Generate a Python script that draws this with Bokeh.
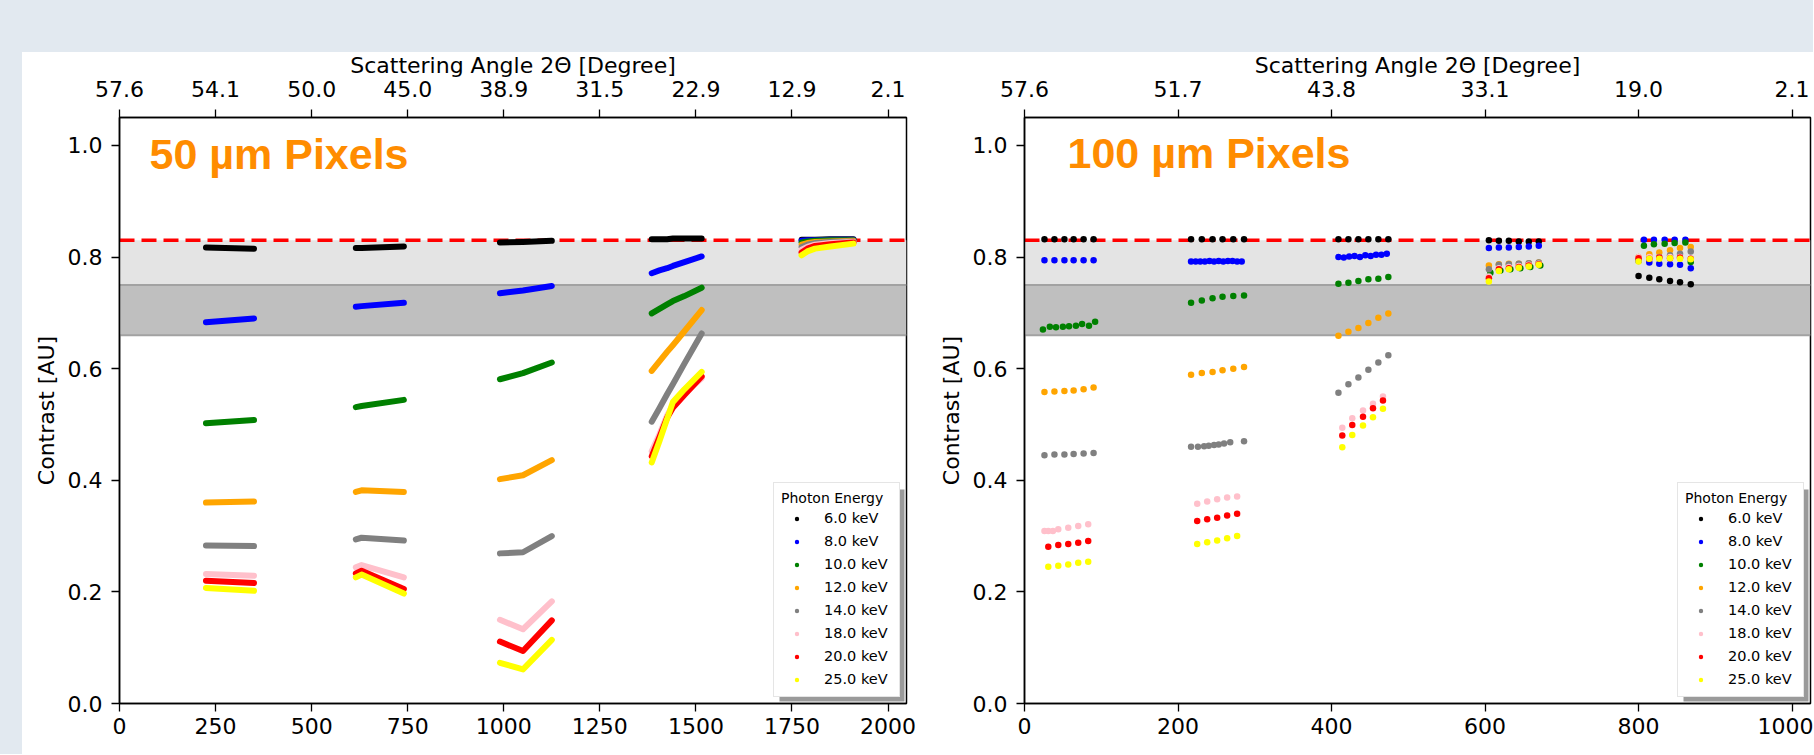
import numpy as np
from bokeh.plotting import figure
from bokeh.models import (LinearAxis, FixedTicker, PrintfTickFormatter, BoxAnnotation,
                          Span, Label, Legend, LegendItem, Spacer)
from bokeh.layouts import row, column
from bokeh.embed import file_html
from bokeh.resources import INLINE

# ---------------- data ----------------
energies = ["6.0 keV", "8.0 keV", "10.0 keV", "12.0 keV", "14.0 keV", "18.0 keV", "20.0 keV", "25.0 keV"]
colors = ["black", "blue", "green", "orange", "gray", "pink", "red", "yellow"]

# 50 um pixels: x positions (pixel) of the five measured groups
x50_g1 = [225, 350]
x50_g2 = [615, 630, 740]
x50_g3 = [990, 1050, 1125]
x50_g4 = [1385, 1405, 1425, 1440, 1470, 1515]
x50_g5 = [1775, 1790, 1810, 1850, 1910]

c50_e06 = [[0.817, 0.815], [0.816, 0.816, 0.819], [0.826, 0.827, 0.829],
           [0.832, 0.832, 0.832, 0.833, 0.833, 0.833], [0.831, 0.831, 0.831, 0.832, 0.832]]
c50_e08 = [[0.683, 0.690], [0.711, 0.712, 0.718], [0.735, 0.740, 0.748],
           [0.771, 0.776, 0.780, 0.784, 0.791, 0.801], [0.829, 0.830, 0.830, 0.831, 0.831]]
c50_e10 = [[0.502, 0.508], [0.531, 0.533, 0.544], [0.581, 0.592, 0.611],
           [0.699, 0.707, 0.715, 0.721, 0.730, 0.745], [0.826, 0.828, 0.829, 0.830, 0.830]]
c50_e12 = [[0.360, 0.362], [0.379, 0.382, 0.379], [0.402, 0.409, 0.436],
           [0.596, 0.613, 0.630, 0.642, 0.667, 0.705], [0.822, 0.825, 0.827, 0.828, 0.829]]
c50_e14 = [[0.283, 0.282], [0.294, 0.297, 0.292], [0.269, 0.271, 0.300],
           [0.505, 0.529, 0.554, 0.572, 0.609, 0.663], [0.818, 0.822, 0.825, 0.827, 0.828]]
c50_e18 = [[0.232, 0.229], [0.244, 0.248, 0.226], [0.150, 0.133, 0.183],
           [0.452, 0.482, 0.516, 0.534, 0.556, 0.583], [0.813, 0.818, 0.822, 0.825, 0.827]]
c50_e20 = [[0.220, 0.216], [0.233, 0.238, 0.205], [0.111, 0.094, 0.149],
           [0.443, 0.477, 0.512, 0.530, 0.553, 0.586], [0.808, 0.815, 0.820, 0.823, 0.826]]
c50_e25 = [[0.207, 0.202], [0.226, 0.231, 0.197], [0.073, 0.061, 0.114],
           [0.432, 0.470, 0.510, 0.540, 0.563, 0.594], [0.803, 0.810, 0.815, 0.819, 0.824]]

# 100 um pixels: individual points
x100_e06 = [26, 39, 52, 64, 77, 90, 217, 231, 245, 258, 272, 286, 409, 422, 435, 448, 461, 474,
            605, 618, 631, 644, 657, 670, 800, 814, 827, 841, 854, 868]
c100_e06 = [0.832, 0.832, 0.832, 0.832, 0.832, 0.832, 0.832, 0.832, 0.832, 0.832, 0.832, 0.832,
            0.832, 0.832, 0.832, 0.832, 0.832, 0.832, 0.830, 0.829, 0.829, 0.828, 0.828, 0.828,
            0.766, 0.763, 0.760, 0.757, 0.755, 0.751]
x100_e08 = [26, 39, 52, 64, 77, 90,
            217, 223, 229, 235, 241, 247, 253, 259, 265, 271, 277, 283,
            409, 416, 423, 430, 437, 444, 451, 458, 465, 472,
            605, 618, 631, 644, 657, 670,
            807, 820, 834, 847, 861, 800, 814, 827, 841, 854, 868]
c100_e08 = [0.794, 0.794, 0.794, 0.794, 0.794, 0.794,
            0.792, 0.792, 0.792, 0.792, 0.793, 0.792, 0.793, 0.792, 0.793, 0.793, 0.792, 0.792,
            0.800, 0.799, 0.801, 0.802, 0.800, 0.803, 0.802, 0.804, 0.804, 0.806,
            0.816, 0.817, 0.817, 0.818, 0.819, 0.820,
            0.831, 0.831, 0.831, 0.831, 0.831, 0.793, 0.790, 0.788, 0.787, 0.786, 0.780]
x100_e10 = [24, 33, 41, 50, 58, 67, 75, 84, 92, 217, 231, 245, 258, 272, 286,
            409, 422, 435, 448, 461, 474, 607, 620, 633, 646, 659, 672,
            807, 820, 834, 847, 861, 868]
c100_e10 = [0.670, 0.675, 0.674, 0.675, 0.676, 0.677, 0.680, 0.677, 0.684,
            0.718, 0.722, 0.726, 0.729, 0.730, 0.731,
            0.752, 0.754, 0.757, 0.760, 0.761, 0.764,
            0.772, 0.776, 0.778, 0.780, 0.782, 0.785,
            0.820, 0.823, 0.824, 0.825, 0.826, 0.791]
x100_e12 = [26, 39, 52, 64, 77, 90, 217, 231, 245, 258, 272, 286,
            409, 422, 435, 448, 461, 474, 605, 618, 631, 644, 657, 670,
            800, 814, 827, 841, 854, 868]
c100_e12 = [0.558, 0.559, 0.560, 0.561, 0.563, 0.566, 0.589, 0.592, 0.594, 0.597, 0.600, 0.603,
            0.659, 0.666, 0.673, 0.682, 0.691, 0.699, 0.785, 0.787, 0.788, 0.788, 0.789, 0.790,
            0.800, 0.805, 0.808, 0.812, 0.816, 0.818]
x100_e14 = [26, 39, 52, 64, 77, 90, 217, 226, 234, 240, 247, 253, 260, 268, 286,
            409, 422, 435, 448, 461, 474, 605, 618, 631, 644, 657, 670,
            800, 814, 827, 841, 854, 868]
c100_e14 = [0.445, 0.446, 0.446, 0.447, 0.448, 0.449,
            0.460, 0.460, 0.461, 0.462, 0.463, 0.464, 0.466, 0.468, 0.470,
            0.557, 0.572, 0.584, 0.598, 0.611, 0.624,
            0.778, 0.786, 0.787, 0.788, 0.789, 0.790,
            0.795, 0.798, 0.800, 0.803, 0.806, 0.810]
x100_e18 = [26, 31, 37, 44, 57, 70, 83, 225, 238, 251, 264, 277, 414, 427, 441, 454, 467,
            605, 618, 631, 644, 657, 670, 800, 814, 827, 841, 854, 868]
c100_e18 = [0.309, 0.309, 0.309, 0.312, 0.315, 0.318, 0.321,
            0.358, 0.362, 0.366, 0.369, 0.371,
            0.494, 0.511, 0.525, 0.537, 0.550,
            0.765, 0.780, 0.782, 0.784, 0.786, 0.788,
            0.800, 0.800, 0.799, 0.800, 0.800, 0.797]
x100_e20 = [31, 44, 57, 70, 83, 225, 238, 251, 264, 277, 414, 427, 441, 454, 467,
            605, 618, 631, 644, 657, 670, 800, 814, 827, 841, 854, 868]
c100_e20 = [0.281, 0.284, 0.286, 0.288, 0.291,
            0.327, 0.330, 0.333, 0.337, 0.340,
            0.480, 0.499, 0.514, 0.529, 0.543,
            0.762, 0.778, 0.780, 0.782, 0.785, 0.787,
            0.798, 0.797, 0.799, 0.798, 0.799, 0.797]
x100_e25 = [31, 44, 57, 70, 83, 225, 238, 251, 264, 277, 414, 427, 441, 454, 467,
            605, 618, 631, 644, 657, 670, 800, 814, 827, 841, 854, 868]
c100_e25 = [0.245, 0.247, 0.249, 0.252, 0.254,
            0.286, 0.289, 0.292, 0.296, 0.300,
            0.459, 0.481, 0.498, 0.513, 0.528,
            0.756, 0.775, 0.778, 0.781, 0.783, 0.786,
            0.792, 0.797, 0.797, 0.798, 0.797, 0.796]

# axis ticks
ticks50 = [0, 250, 500, 750, 1000, 1250, 1500, 1750, 2000]
angles50 = ["57.6", "54.1", "50.0", "45.0", "38.9", "31.5", "22.9", "12.9", "2.1"]
ticks100 = [0, 200, 400, 600, 800, 1000]
angles100 = ["57.6", "51.7", "43.8", "33.1", "19.0", "2.1"]
yticks = [0.0, 0.2, 0.4, 0.6, 0.8, 1.0]

# reference levels
band_dark = (0.66, 0.75)
band_light = (0.75, 0.83)
ref_level = 0.83

# ---------------- styling ----------------
BG = "#e2e9f0"
FONT = "DejaVu Sans"
FS = "22px"
LEG_FS = "14.5px"
YMAX = 1.05

c50_all = [c50_e06, c50_e08, c50_e10, c50_e12, c50_e14, c50_e18, c50_e20, c50_e25]
x50_groups = [x50_g1, x50_g2, x50_g3, x50_g4, x50_g5]
x100_all = [x100_e06, x100_e08, x100_e10, x100_e12, x100_e14, x100_e18, x100_e20, x100_e25]
c100_all = [c100_e06, c100_e08, c100_e10, c100_e12, c100_e14, c100_e18, c100_e20, c100_e25]

EXTRA = 6                      # top part of the figure painted like the page background
TOPBAND, LEFTBAND = 52 - EXTRA, 22
H = 702 + EXTRA
MB_TOP, MB_BOT = 65 + EXTRA, 51


def style_axis(ax):
    ax.axis_line_width = 1.5
    ax.major_tick_line_width = 1.3
    ax.major_tick_out = 8
    ax.major_tick_in = 0
    ax.minor_tick_line_color = None
    ax.major_label_text_font = FONT
    ax.major_label_text_font_size = FS
    ax.major_label_text_color = "black"
    ax.axis_label_text_font = FONT
    ax.axis_label_text_font_size = FS
    ax.axis_label_text_font_style = "normal"
    ax.axis_label_text_color = "black"


def make_fig(width, left, right, xmax, ticks, angle_labels):
    p = figure(width=width, height=H, x_range=(0, xmax), y_range=(0, YMAX),
               output_backend="svg", toolbar_location=None, title=None,
               min_border_left=left, min_border_right=right,
               min_border_top=MB_TOP, min_border_bottom=MB_BOT)
    p.grid.visible = False
    p.background_fill_color = "white"
    p.border_fill_alpha = 0
    p.styles = {"background": f"linear-gradient(to bottom, {BG} 0px, {BG} {EXTRA}px, "
                              f"white {EXTRA}px, white 100%)"}
    p.outline_line_color = "black"
    p.outline_line_width = 1.5
    bottom = p.xaxis[0]
    yax = p.yaxis[0]
    top = LinearAxis(axis_label="Scattering Angle 2\u0398 [Degree]")
    p.add_layout(top, "above")
    for ax in (bottom, yax, top):
        style_axis(ax)
    bottom.ticker = FixedTicker(ticks=ticks)
    bottom.major_label_standoff = 6
    top.ticker = FixedTicker(ticks=ticks)
    top.major_label_overrides = {t: lab for t, lab in zip(ticks, angle_labels)}
    top.major_label_standoff = 13
    top.axis_label_standoff = 0
    yax.ticker = FixedTicker(ticks=yticks)
    yax.formatter = PrintfTickFormatter(format="%.1f")
    yax.major_label_standoff = 9
    yax.axis_label = "Contrast [AU]"
    yax.axis_label_standoff = 6

    p.add_layout(BoxAnnotation(bottom=band_light[0], top=band_light[1], fill_color="#e4e4e4",
                               fill_alpha=1, line_color=None, level="underlay"))
    p.add_layout(BoxAnnotation(bottom=band_dark[0], top=band_dark[1], fill_color="#bfbfbf",
                               fill_alpha=1, line_color=None, level="underlay"))
    for lv in band_dark:
        p.add_layout(Span(location=lv, dimension="width", line_color="#a2a2a2",
                          line_width=2, level="underlay"))
    p.add_layout(Span(location=ref_level, dimension="width", line_color="red",
                      line_width=3.5, line_dash="15 7", level="underlay"))
    # bottom axis title, cut by the lower edge of the page as in the original
    p.add_layout(Label(x=xmax / 2, y=0, y_offset=-46, text="Scattering Angle 2\u0398 [Pixel]",
                       text_font=FONT, text_font_size=FS, text_color="black",
                       text_align="center", text_baseline="top"))
    return p


def add_legend(p, renderers, frame_w, frame_h, xmax):
    legend = Legend(items=[LegendItem(label=e, renderers=[r]) for e, r in zip(energies, renderers)],
                    location="bottom_right", title="Photon Energy")
    legend.title_text_font = FONT
    legend.title_text_font_size = "14px"
    legend.title_text_font_style = "normal"
    legend.title_text_color = "black"
    legend.title_standoff = 2
    legend.label_text_font = FONT
    legend.label_text_font_size = LEG_FS
    legend.label_text_color = "black"
    legend.glyph_width = 31
    legend.glyph_height = 11
    legend.label_height = 20
    legend.label_width = 68
    legend.spacing = 3
    legend.padding = 7
    legend.margin = 6
    legend.label_standoff = 12
    legend.border_line_color = "#cccccc"
    legend.border_line_width = 1
    legend.background_fill_color = "white"
    legend.background_fill_alpha = 1
    # drop shadow of the legend box
    lw, lh, m, off = 125, 212, 6, 4
    kx = frame_w / xmax
    ky = frame_h / YMAX
    p.add_layout(BoxAnnotation(left=(frame_w - m - lw + off) / kx, right=(frame_w - m + off) / kx,
                               bottom=(m - off) / ky, top=(m + lh - off) / ky,
                               fill_color="#9a9a9a", fill_alpha=1, line_color=None))
    p.add_layout(legend)


# ---- left figure: 50 um pixels ----
W1, L1, R1 = 896, 97, 12
p1 = make_fig(W1, L1, R1, 2048, ticks50, angles50)
leg1 = []
for name, col, cy in zip(energies, colors, c50_all):
    xs, ys = [], []
    for gx, gy in zip(x50_groups, cy):
        if xs:
            xs.append(np.nan)
            ys.append(np.nan)
        xs += gx
        ys += gy
    xs = np.array(xs, dtype=float)
    ys = np.array(ys, dtype=float)
    ok = ~np.isnan(xs)
    leg1.append(p1.scatter(xs[ok], ys[ok], size=4, color=col, line_color=None))
    p1.line(xs, ys, line_color=col, line_width=6, line_cap="round", line_join="round")
p1.add_layout(Label(x=78, y=0.984, text="50 \u00b5m Pixels", text_font="Liberation Sans",
                    text_font_size="43px", text_font_style="bold", text_color="#ff8c00",
                    text_baseline="alphabetic"))
add_legend(p1, leg1, W1 - L1 - R1, H - MB_TOP - MB_BOT, 2048)

# ---- right figure: 100 um pixels ----
W2, L2, R2 = 895, 106, 3
p2 = make_fig(W2, L2, R2, 1024, ticks100, angles100)
leg2 = []
for name, col, xs, ys in zip(energies, colors, x100_all, c100_all):
    leg2.append(p2.scatter(xs, ys, size=6.5, color=col, line_color=None))
p2.add_layout(Label(x=56, y=0.986, text="100 \u00b5m Pixels", text_font="Liberation Sans",
                    text_font_size="43px", text_font_style="bold", text_color="#ff8c00",
                    text_baseline="alphabetic"))
add_legend(p2, leg2, W2 - L2 - R2, H - MB_TOP - MB_BOT, 1024)

top_band = Spacer(width=LEFTBAND + W1 + W2, height=TOPBAND, styles={"background-color": BG})
left_band = Spacer(width=LEFTBAND, height=H, styles={"background-color": BG})
layout = column(top_band, row(left_band, p1, p2))

open("out.html", "w").write(file_html(layout, INLINE))
